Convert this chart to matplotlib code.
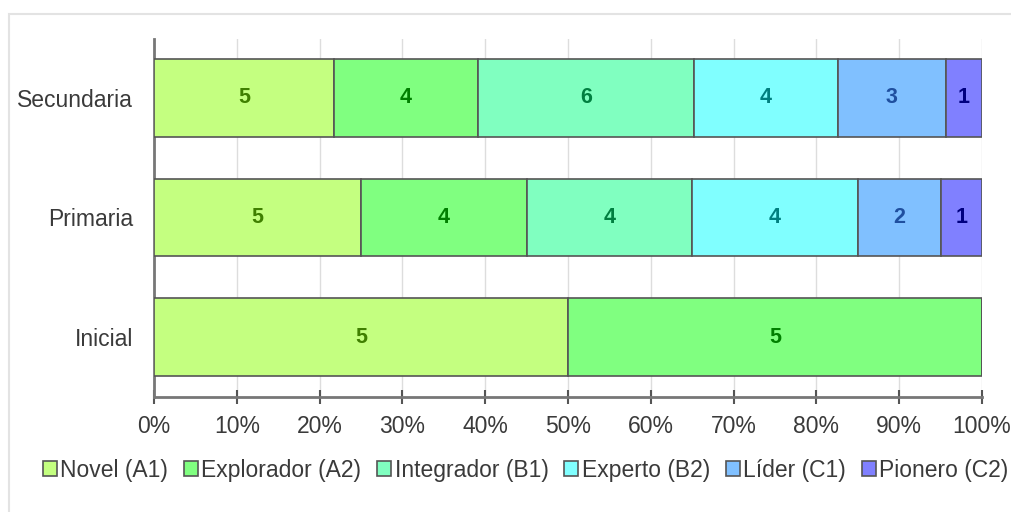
import matplotlib.pyplot as plt
from matplotlib.patches import Rectangle
import numpy as np

plt.rcParams['font.family'] = ['Liberation Sans', 'DejaVu Sans']

categories = ['Inicial', 'Primaria', 'Secundaria']
series = ['Novel (A1)', 'Explorador (A2)', 'Integrador (B1)',
          'Experto (B2)', 'Líder (C1)', 'Pionero (C2)']
# conteos por nivel (Inicial, Primaria, Secundaria)
counts = {
    'Novel (A1)': [5, 5, 5],
    'Explorador (A2)': [5, 4, 4],
    'Integrador (B1)': [0, 4, 6],
    'Experto (B2)': [0, 4, 4],
    'Líder (C1)': [0, 2, 3],
    'Pionero (C2)': [0, 1, 1],
}
colors = ['#C4FF80', '#80FF80', '#80FFC0', '#80FFFF', '#80C0FF', '#8080FF']
text_colors = ['#3F7F00', '#007F00', '#007F40', '#007F7F', '#1F4F9F', '#00007F']

fig = plt.figure(figsize=(10.11, 5.12), dpi=100)
ax = fig.add_axes([0.1523, 0.2246, 0.819, 0.699])

# marco de la figura
fig.patches.append(Rectangle((0.009, -0.02), 1.0, 0.9927, transform=fig.transFigure,
                             fill=False, edgecolor='#E3E3E3', linewidth=1.5))

totals = np.sum([counts[s] for s in series], axis=0)
y = np.arange(len(categories))
left = np.zeros(len(categories))
for s, c, tc in zip(series, colors, text_colors):
    vals = np.array(counts[s], dtype=float)
    pct = vals / totals * 100
    ax.barh(y, pct, left=left, height=0.65, color=c, edgecolor='#555555',
            linewidth=1.2, label=s, zorder=3)
    for i in range(len(y)):
        if vals[i] > 0:
            ax.text(left[i] + pct[i] / 2, y[i], str(int(vals[i])), ha='center',
                    va='center', fontsize=15.5, fontweight='bold', color=tc, zorder=4)
    left += pct

ax.set_xlim(0, 100)
ax.set_ylim(-0.5, 2.49)
ax.set_yticks(y)
ax.set_yticklabels(categories, fontsize=16.5, color='#3A3A3A')
ax.set_xticks(np.arange(0, 101, 10))
ax.set_xticklabels([f'{v}%' for v in range(0, 101, 10)], fontsize=16.5, color='#3A3A3A')
ax.tick_params(axis='y', length=0, pad=15)
ax.tick_params(axis='x', direction='inout', length=10, width=1.5, color='#555555', pad=8)
ax.grid(axis='x', color='#DDDDDD', linewidth=1, zorder=0)
for side in ['top', 'right']:
    ax.spines[side].set_visible(False)
ax.spines['left'].set_color('#777777')
ax.spines['left'].set_linewidth(2)
ax.spines['bottom'].set_color('#777777')
ax.spines['bottom'].set_linewidth(2)

fig.legend(loc='center', bbox_to_anchor=(0.52, 0.082), ncol=6, frameon=False,
           fontsize=16.5, handlelength=0.6, handleheight=0.6, handletextpad=0.15,
           columnspacing=0.7, labelcolor='#3A3A3A')

plt.savefig('out.png', dpi=100)
